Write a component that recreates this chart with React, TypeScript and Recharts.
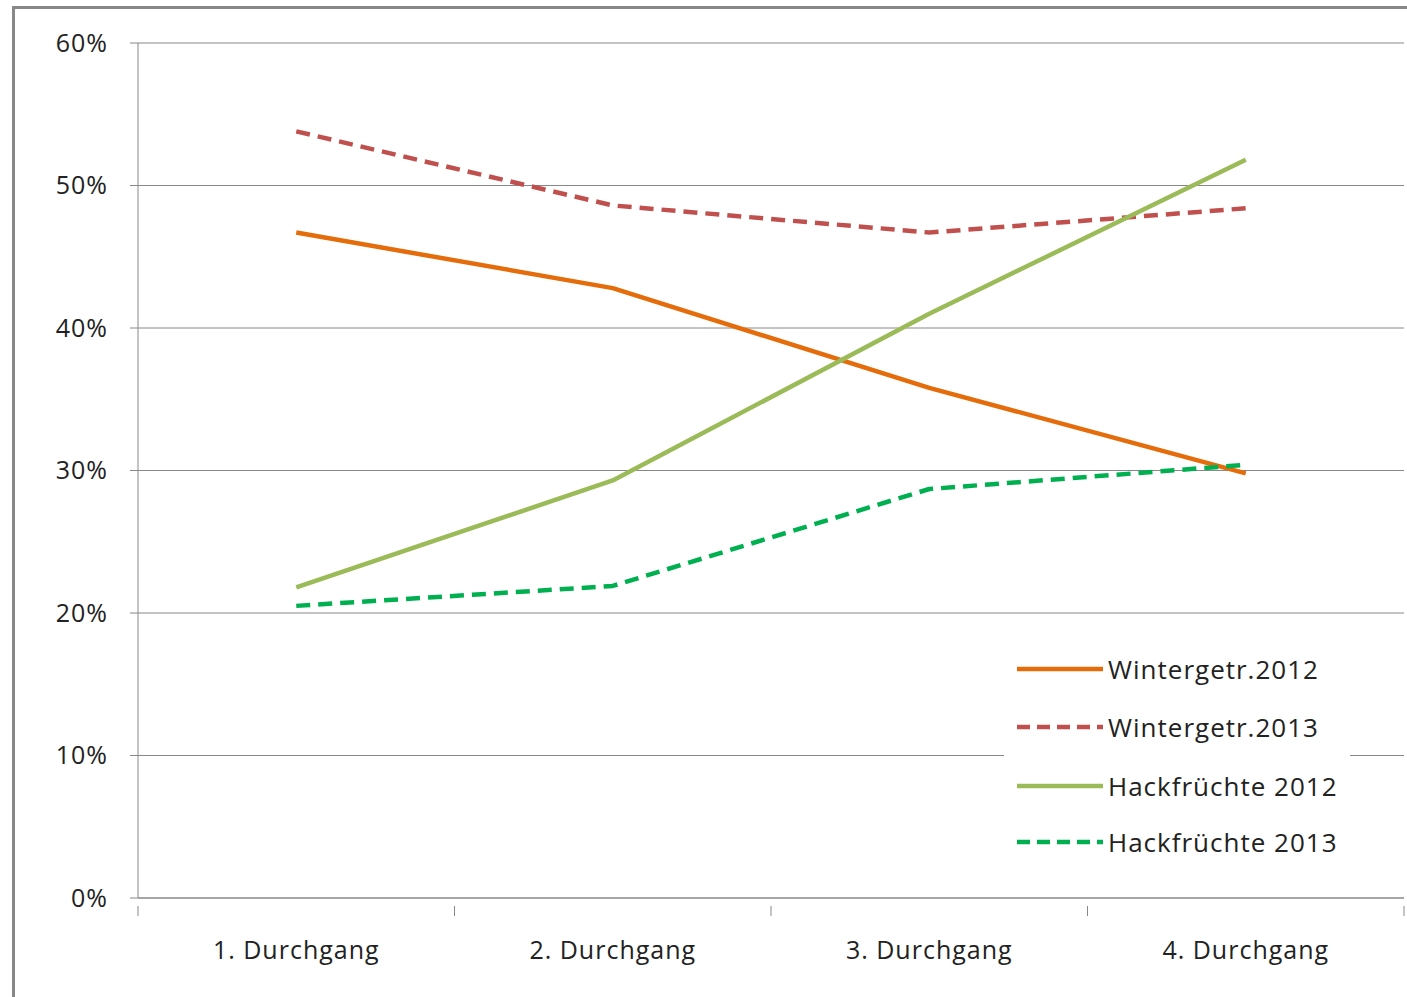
import React from "react";
import { LineChart, Line, XAxis, YAxis, CartesianGrid } from "recharts";

const categories = ["1. Durchgang", "2. Durchgang", "3. Durchgang", "4. Durchgang"];
const positions = [0.5, 1.5, 2.5, 3.5];
const winter2012 = [46.7, 42.8, 35.8, 29.8];
const winter2013 = [53.8, 48.6, 46.7, 48.4];
const hack2012 = [21.8, 29.3, 41.0, 51.8];
const hack2013 = [20.5, 21.9, 28.7, 30.4];
const yTicks = [0, 10, 20, 30, 40, 50, 60];
const xTicks = [0, 0.5, 1, 1.5, 2, 2.5, 3, 3.5, 4];

const seriesInfo = [
  { key: "w12", name: "Wintergetr.2012", color: "#E46C0A", dash: undefined as string | undefined },
  { key: "w13", name: "Wintergetr.2013", color: "#C0504D", dash: "14 8" },
  { key: "h12", name: "Hackfrüchte 2012", color: "#9BBB59", dash: undefined },
  { key: "h13", name: "Hackfrüchte 2013", color: "#00B050", dash: "14 8" },
];

const data = categories.map((c, i) => ({
  x: positions[i],
  cat: c,
  w12: winter2012[i],
  w13: winter2013[i],
  h12: hack2012[i],
  h13: hack2013[i],
}));

const FONT = "'Open Sans', sans-serif";

const XTick = (props: any) => {
  const { x, y, payload } = props;
  const v = payload.value as number;
  if (Number.isInteger(v)) {
    return <line x1={x} x2={x} y1={y} y2={y + 10} stroke="#888" strokeWidth={1} />;
  }
  const idx = positions.indexOf(v);
  return (
    <text x={x} y={y + 46} textAnchor="middle" dominantBaseline="middle" fontFamily={FONT} fontSize={25} letterSpacing={1} fill="#222">
      {categories[idx]}
    </text>
  );
};

const LegendBox = () => (
  <div style={{ position: "absolute", left: 1004, top: 640, background: "#fff", width: 346, height: 230 }}>
    {seriesInfo.map((s, i) => {
      const cy = [29, 87, 146, 202][i];
      return (
        <div key={s.key} style={{ position: "absolute", left: 13, top: cy - 18, height: 36, display: "flex", alignItems: "center" }}>
          <svg width={88} height={10}>
            <line x1={0} x2={86} y1={5} y2={5} stroke={s.color} strokeWidth={4.5} strokeDasharray={s.dash ? "13 7" : undefined} />
          </svg>
          <span style={{ fontFamily: FONT, fontSize: 26, letterSpacing: 1, color: "#222", marginLeft: 3, whiteSpace: "nowrap" }}>{s.name}</span>
        </div>
      );
    })}
  </div>
);

export default function App() {
  return (
    <div style={{ position: "absolute", left: 0, top: 0, width: 1407, height: 997, background: "#fff" }}>
      <div style={{ position: "absolute", left: 12, top: 6, width: 1395, height: 991, borderLeft: "3px solid #888", borderTop: "3px solid #888", boxSizing: "border-box" }} />
      <div style={{ position: "absolute", left: 0, top: 0 }}>
        <LineChart width={1407} height={997} data={data} margin={{ top: 43, right: 3, left: 0, bottom: 0 }}>
          <CartesianGrid horizontal={true} vertical={false} stroke="#888" strokeWidth={1} />
          <XAxis
            dataKey="x"
            type="number"
            domain={[0, 4]}
            ticks={xTicks}
            tickLine={false}
            axisLine={{ stroke: "#888", strokeWidth: 1 }}
            tick={<XTick />}
            height={99}
            interval={0}
          />
          <YAxis
            type="number"
            domain={[0, 60]}
            ticks={yTicks}
            width={138}
            tickSize={8}
            tickLine={{ stroke: "#888" }}
            axisLine={{ stroke: "#888", strokeWidth: 1 }}
            tickMargin={22}
            tickFormatter={(v: number) => `${v}%`}
            tick={{ fontFamily: FONT, fontSize: 25, letterSpacing: 1, fill: "#222" }}
            interval={0}
          />
          {seriesInfo.map((s) => (
            <Line
              key={s.key}
              dataKey={s.key}
              name={s.name}
              type="linear"
              stroke={s.color}
              strokeWidth={4.5}
              strokeDasharray={s.dash}
              strokeLinejoin="round"
              dot={false}
              isAnimationActive={false}
            />
          ))}
        </LineChart>
      </div>
      <LegendBox />
    </div>
  );
}
